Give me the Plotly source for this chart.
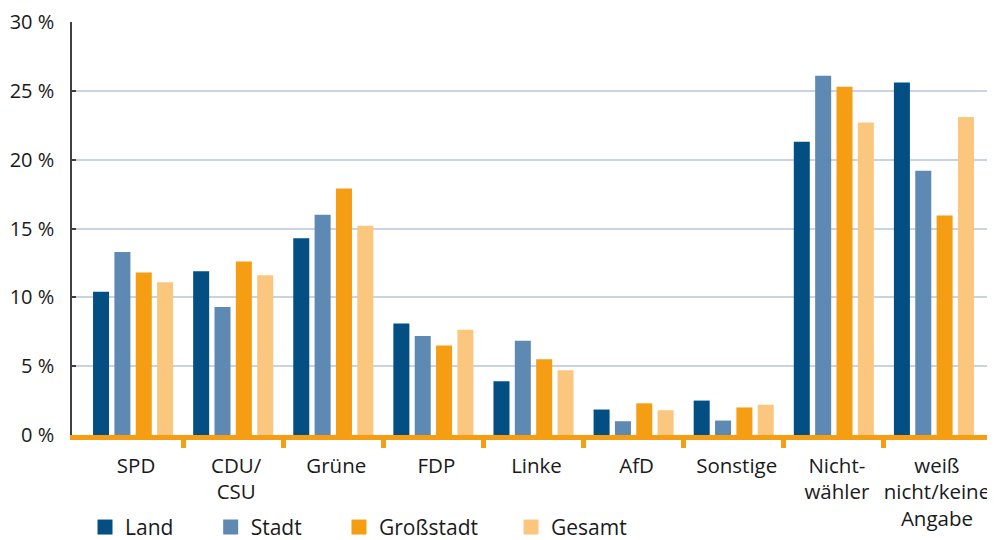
import plotly.graph_objects as go

categories = ["SPD", "CDU/<br>CSU", "Grüne", "FDP", "Linke", "AfD", "Sonstige",
              "Nicht-<br>wähler", "weiß<br>nicht/keine<br>Angabe"]
series_names = ["Land", "Stadt", "Großstadt", "Gesamt"]
land = [10.4, 11.9, 14.3, 8.1, 3.9, 1.85, 2.5, 21.3, 25.6]
stadt = [13.3, 9.3, 16.0, 7.2, 6.85, 1.0, 1.05, 26.1, 19.2]
grossstadt = [11.8, 12.6, 17.9, 6.5, 5.5, 2.3, 2.0, 25.3, 15.95]
gesamt = [11.1, 11.6, 15.2, 7.65, 4.7, 1.8, 2.2, 22.7, 23.1]
y_ticks = [0, 5, 10, 15, 20, 25, 30]
y_tick_labels = ["0 %", "5 %", "10 %", "15 %", "20 %", "25 %", "30 %"]

colors = ["#034f83", "#5d89b3", "#f59d13", "#fbc77f"]
orange = "#f59d13"
text_color = "#1a1a1a"
font_family = "Open Sans"
fs = 21

fig = go.Figure()
all_series = [land, stadt, grossstadt, gesamt]
legend_ids = ["legend", "legend2", "legend3", "legend4"]
for name, vals, col, lg in zip(series_names, all_series, colors, legend_ids):
    fig.add_trace(go.Bar(x=categories, y=vals, name=name, marker_color=col,
                         marker_line_width=0, showlegend=False))
    # legend entry with bigger square symbol
    fig.add_trace(go.Scatter(x=[None], y=[None], mode="markers", name=name,
                             marker=dict(symbol="square", size=15, color=col),
                             legend=lg, showlegend=True))

# invisible trace to carry the boundary tick axis
fig.add_trace(go.Scatter(x=[None], y=[None], xaxis="x2", mode="markers",
                         showlegend=False, hoverinfo="skip"))

# the page body adds an 8px margin, so the figure is 8px smaller and the
# left/top margins are reduced accordingly
xr = [-0.61, 8.57]
fig.update_layout(
    width=987, height=532,
    margin=dict(l=64, r=4, t=13.5, b=105, autoexpand=False),
    paper_bgcolor="white", plot_bgcolor="white",
    font=dict(family=font_family, size=fs, color=text_color),
    barmode="group", bargap=0.147, bargroupgap=0.25,
    xaxis=dict(type="category", range=xr, showline=True, linecolor=orange,
               linewidth=5, ticks="", showgrid=False, zeroline=False,
               tickfont=dict(size=20.5, color=text_color), ticklabelshift=3,
               ticklabelstandoff=8, automargin=False),
    xaxis2=dict(overlaying="x", anchor="y", side="bottom", range=xr,
                tickvals=[0.5, 1.5, 2.5, 3.5, 4.5, 5.5, 6.5, 7.5],
                ticks="outside", ticklen=12, tickwidth=5, tickcolor=orange,
                showticklabels=False, showgrid=False, zeroline=False,
                showline=False, automargin=False),
    yaxis=dict(range=[0, 30], tickmode="array", tickvals=y_ticks,
               ticktext=y_tick_labels,
               showline=True, linecolor="#404040", linewidth=1.5,
               ticks="inside", ticklen=4, tickwidth=1.5, tickcolor="#404040",
               showgrid=True, gridcolor="#c9d3e4", gridwidth=1.5,
               zeroline=False, tickfont=dict(size=20, color=text_color),
               ticklabelstandoff=12, automargin=False),
)

leg_common = dict(orientation="h", yanchor="middle", y=-0.2237, xanchor="left",
                  bgcolor="rgba(0,0,0,0)", borderwidth=0,
                  font=dict(size=fs, color=text_color, family=font_family))
fig.update_layout(
    legend=dict(x=0.01415, **leg_common),
    legend2=dict(x=0.1509, **leg_common),
    legend3=dict(x=0.2905, **leg_common),
    legend4=dict(x=0.4777, **leg_common),
)

fig.write_html("out.html")
